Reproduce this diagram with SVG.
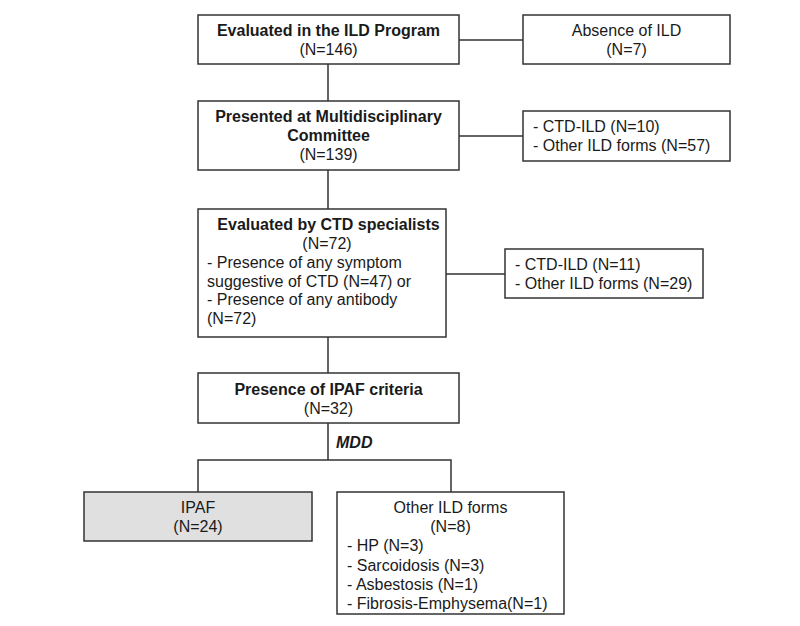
<svg xmlns="http://www.w3.org/2000/svg" width="800" height="626" viewBox="0 0 800 626">
<style>
.box{fill:#fff;stroke:#333;stroke-width:1.5}
.grey{fill:#e0e0e0}
.t{font-family:"Liberation Sans",Arial,sans-serif;font-size:16px;fill:#1a1a1a}
.b{font-weight:bold}
.c{text-anchor:middle}
.ln{stroke:#333;stroke-width:1.5;fill:none}
</style>
<rect width="800" height="626" fill="#fff"/>
<g id="connectors">
<path class="ln" d="M328 64V101M328 170V209M328 337V373M328 423V460M459 40H523M459 136H523M446 274H505M198 492V460H451V492"/>
</g>
<g id="n1">
<rect class="box" x="198" y="15" width="261" height="49"/>
<text class="t b c" x="328.5" y="36">Evaluated in the ILD Program</text>
<text class="t c" x="328.5" y="55">(N=146)</text>
</g>
<g id="n2">
<rect class="box" x="523" y="15" width="207" height="49"/>
<text class="t c" x="626.5" y="36">Absence of ILD</text>
<text class="t c" x="626.5" y="55">(N=7)</text>
</g>
<g id="n3">
<rect class="box" x="198" y="101" width="261" height="69"/>
<text class="t b c" x="328.5" y="122">Presented at Multidisciplinary</text>
<text class="t b c" x="328.5" y="141">Committee</text>
<text class="t c" x="328.5" y="160">(N=139)</text>
</g>
<g id="n4">
<rect class="box" x="523" y="111" width="207" height="50"/>
<text class="t" x="533" y="132">- CTD-ILD (N=10)</text>
<text class="t" x="533" y="151">- Other ILD forms (N=57)</text>
</g>
<g id="n5">
<rect class="box" x="198" y="209" width="248" height="128"/>
<text class="t b c" x="328.5" y="230">Evaluated by CTD specialists</text>
<text class="t c" x="327" y="249">(N=72)</text>
<text class="t" x="207" y="268">- Presence of any symptom</text>
<text class="t" x="207" y="287">suggestive of CTD (N=47) or</text>
<text class="t" x="207" y="305">- Presence of any antibody</text>
<text class="t" x="207" y="324">(N=72)</text>
</g>
<g id="n6">
<rect class="box" x="505" y="249" width="198" height="49"/>
<text class="t" x="515" y="270">- CTD-ILD (N=11)</text>
<text class="t" x="515" y="289">- Other ILD forms (N=29)</text>
</g>
<g id="n7">
<rect class="box" x="198" y="373" width="261" height="50"/>
<text class="t b c" x="328.5" y="395">Presence of IPAF criteria</text>
<text class="t c" x="328.5" y="414">(N=32)</text>
</g>
<text class="t b" x="336" y="448" font-style="italic">MDD</text>
<g id="n8">
<rect class="box grey" x="84" y="492" width="228" height="49"/>
<text class="t c" x="198" y="513">IPAF</text>
<text class="t c" x="198" y="532">(N=24)</text>
</g>
<g id="n9">
<rect class="box" x="337" y="492" width="227" height="122"/>
<text class="t c" x="450.5" y="513">Other ILD forms</text>
<text class="t c" x="450.5" y="532">(N=8)</text>
<text class="t" x="347" y="551">- HP (N=3)</text>
<text class="t" x="347" y="571">- Sarcoidosis (N=3)</text>
<text class="t" x="347" y="590">- Asbestosis (N=1)</text>
<text class="t" x="347" y="609">- Fibrosis-Emphysema(N=1)</text>
</g>
</svg>
